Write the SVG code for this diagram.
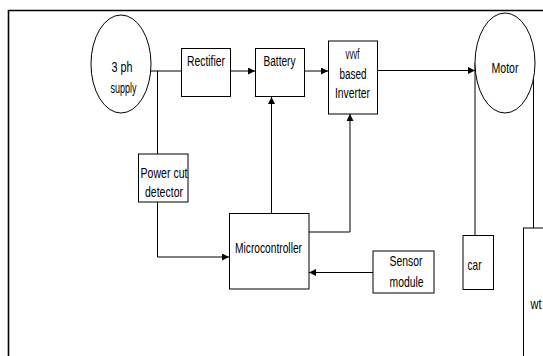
<svg xmlns="http://www.w3.org/2000/svg" width="543" height="356" viewBox="0 0 543 356">
<style>
.b{fill:#fff;stroke:#000;stroke-width:1}
.c{fill:none;stroke:#000;stroke-width:1}
.t{font-family:"Liberation Sans",Arial,sans-serif;font-size:14px;fill:#000;text-anchor:middle}
</style>
<defs>
<marker id="ah" viewBox="0 0 10 10" refX="10" refY="5" markerWidth="8" markerHeight="7" markerUnits="userSpaceOnUse" orient="auto">
<path d="M0,0L10,5L0,10z" fill="#000"/>
</marker>
</defs>
<rect width="543" height="356" fill="#fff"/>
<path d="M8.5,356V10.5H543" fill="none" stroke="#000" stroke-width="1.6"/>
<g id="connectors">
<path class="c" d="M151,71H181"/>
<path class="c" d="M157.5,71V154"/>
<path class="c" d="M231,71H255" marker-end="url(#ah)"/>
<path class="c" d="M304,71H328" marker-end="url(#ah)"/>
<path class="c" d="M377,70.5H475" marker-end="url(#ah)"/>
<path class="c" d="M157.5,202V257H229" marker-end="url(#ah)"/>
<path class="c" d="M271.5,213V97" marker-end="url(#ah)"/>
<path class="c" d="M309,232H350V114" marker-end="url(#ah)"/>
<path class="c" d="M373,272.5H309" marker-end="url(#ah)"/>
<path class="c" d="M475,63V235"/>
<path class="c" d="M533.5,79V228"/>
</g>
<g id="supply">
<ellipse class="b" cx="121" cy="64" rx="30" ry="49"/>
<text class="t" x="122" y="72" textLength="21" lengthAdjust="spacingAndGlyphs">3 ph</text>
<text class="t" x="123.5" y="93" textLength="26" lengthAdjust="spacingAndGlyphs">supply</text>
</g>
<g id="rectifier">
<rect class="b" x="181.5" y="48.5" width="49" height="48"/>
<text class="t" x="206" y="66" textLength="38" lengthAdjust="spacingAndGlyphs">Rectifier</text>
</g>
<g id="battery">
<rect class="b" x="255.5" y="48.5" width="49" height="48"/>
<text class="t" x="279.5" y="66" textLength="32" lengthAdjust="spacingAndGlyphs">Battery</text>
</g>
<g id="inverter">
<rect class="b" x="328.5" y="41" width="49" height="73"/>
<text class="t" x="352.5" y="59" textLength="14" lengthAdjust="spacingAndGlyphs">vvvf</text>
<text class="t" x="353" y="78.5" textLength="27" lengthAdjust="spacingAndGlyphs">based</text>
<text class="t" x="352.5" y="98" textLength="35" lengthAdjust="spacingAndGlyphs">Inverter</text>
</g>
<g id="motor">
<ellipse class="b" cx="505" cy="63" rx="30" ry="50"/>
<text class="t" x="505" y="73" textLength="27" lengthAdjust="spacingAndGlyphs">Motor</text>
</g>
<g id="powercut">
<rect class="b" x="138.5" y="154" width="49.5" height="48"/>
<text class="t" x="164" y="178" textLength="47" lengthAdjust="spacingAndGlyphs">Power cut</text>
<text class="t" x="164" y="197" textLength="38" lengthAdjust="spacingAndGlyphs">detector</text>
</g>
<g id="microcontroller">
<rect class="b" x="229.5" y="213.5" width="79.5" height="75.5"/>
<text class="t" x="268.5" y="253" textLength="67" lengthAdjust="spacingAndGlyphs">Microcontroller</text>
</g>
<g id="sensor">
<rect class="b" x="373" y="251" width="61" height="42"/>
<text class="t" x="406" y="266" textLength="33" lengthAdjust="spacingAndGlyphs">Sensor</text>
<text class="t" x="406.5" y="287" textLength="34" lengthAdjust="spacingAndGlyphs">module</text>
</g>
<g id="car">
<rect class="b" x="463" y="235.5" width="30.5" height="54"/>
<text class="t" x="474.5" y="270" textLength="14" lengthAdjust="spacingAndGlyphs">car</text>
</g>
<g id="wt">
<rect class="b" x="523.5" y="228" width="40" height="140"/>
<text class="t" x="536" y="309" textLength="11" lengthAdjust="spacingAndGlyphs">wt</text>
</g>
</svg>
